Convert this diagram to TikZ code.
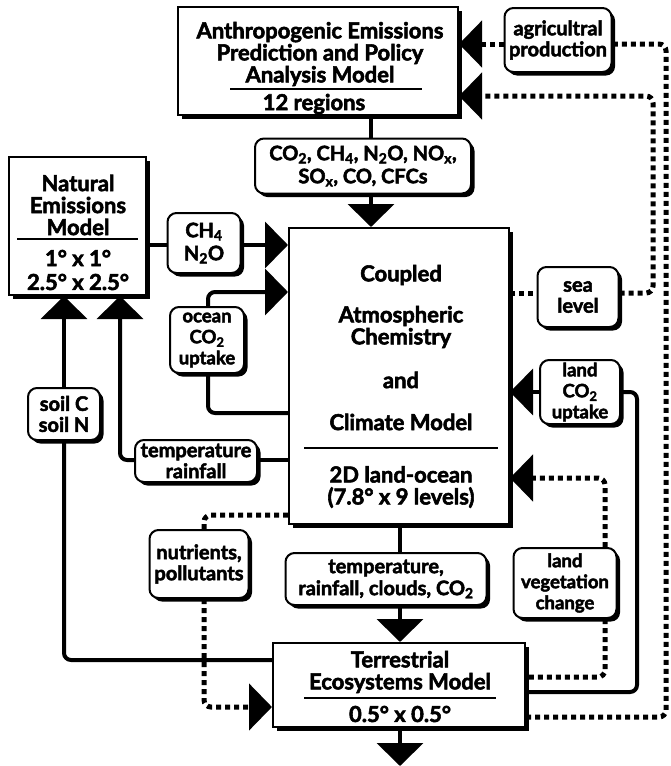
\documentclass[tikz,border=0pt]{standalone}
\usepackage{fontspec}
\setmainfont{Lato}[BoldFeatures={FakeBold=2.5}]
\usetikzlibrary{arrows.meta,shadows,calc}
\newcommand\mytxt{\bfseries\fontsize{22}{22}\selectfont}
\newcommand\mylbl{\bfseries\fontsize{20}{21}\selectfont}
\newcommand\mylblsm{\bfseries\fontsize{18.5}{21}\selectfont}
\begin{document}
\begin{tikzpicture}[x=1pt,y=-1pt,
  shad/.style={drop shadow={shadow xshift=3.5pt,shadow yshift=-3.5pt,fill=black,opacity=1}},
  mbox/.style={draw,line width=2pt,fill=white,inner sep=0pt,shad},
  lbl/.style={draw,line width=2pt,fill=white,rounded corners=9pt,inner sep=0pt,align=center,shad,font=\mylbl},
  lblsm/.style={lbl,font=\mylblsm},
  txt/.style={inner sep=0pt,align=center,font=\mytxt},
  conn/.style={line width=4pt,rounded corners=7pt},
  dots/.style={line width=5pt,dash pattern=on 5pt off 4pt,rounded corners=7pt},
  tipp/.style={-{Triangle[length=23pt,width=46pt]}},
  rule/.style={line width=2pt}
]
\useasboundingbox (0,0) rectangle (671,766);
% coordinates
\coordinate (xA) at (371,0);
\coordinate (yAg) at (0,44);
\coordinate (ySe) at (0,96);
\coordinate (yCH) at (0,245);
\coordinate (yOc) at (0,292);
\coordinate (xOc) at (208,0);
\coordinate (yOb) at (0,413);
\coordinate (yTR) at (0,460);
\coordinate (xTR) at (120,0);
\coordinate (xSo) at (64,0);
\coordinate (ySo) at (0,660);
\coordinate (xC) at (400,0);
\coordinate (yLa) at (0,392);
\coordinate (xLa) at (637,0);
\coordinate (yLb) at (0,692);
\coordinate (ySea) at (0,293);
\coordinate (xSea) at (653,0);
\coordinate (yVg) at (0,478);
\coordinate (xVg) at (605,0);
\coordinate (yVb) at (0,677);
\coordinate (yNu) at (0,515);
\coordinate (xNu) at (204,0);
\coordinate (yNb) at (0,707);
\coordinate (yTo) at (0,717);
\coordinate (xR) at (666,0);
\coordinate (bot) at (400,766);

% main boxes
\node[mbox,minimum width=280pt,minimum height=108pt] (anthro) at (318,61) {};
\node[txt] (anthroT) at (320,54) {Anthropogenic Emissions\\Prediction and Policy\\Analysis Model};
\draw[rule] (230,89) -- (422,89);
\node[txt] (anthroR) at (314,104) {12 regions};

\node[mbox,minimum width=137pt,minimum height=138pt] (natural) at (77.5,226) {};
\node[txt] (naturalT) at (78,205) {Natural\\Emissions\\Model};
\draw[rule] (17,239) -- (138,239);
\node[txt] (naturalR1) at (78,258) {1\textdegree\ x 1\textdegree};
\node[txt] (naturalR2) at (78,282) {2.5\textdegree\ x 2.5\textdegree};

\node[mbox,minimum width=220pt,minimum height=296pt] (climate) at (399,376) {};
\node[txt] (cl1) at (401,275) {Coupled};
\node[txt] (cl2) at (401,327) {Atmospheric\\Chemistry};
\node[txt] (cl3) at (401,380) {and};
\node[txt] (cl4) at (401,422) {Climate Model};
\draw[rule] (304,448) -- (498,448);
\node[txt] (cl5) at (401,487) {2D land-ocean\\(7.8\textdegree\ x 9 levels)};

\node[mbox,minimum width=252pt,minimum height=84pt] (terr) at (399,685) {};
\node[txt] (terrT) at (400,672) {Terrestrial\\Ecosystems Model};
\draw[rule] (304,698) -- (496,698);
\node[txt] (terrR) at (400,714) {0.5\textdegree\ x 0.5\textdegree};

% labels
\node[lbl,minimum width=216pt,minimum height=55pt,font=\bfseries\fontsize{20}{23}\selectfont] (co2) at (363,166) {CO\textsubscript{2}, CH\textsubscript{4}, N\textsubscript{2}O, NO\textsubscript{x},\\SO\textsubscript{x}, CO, CFCs};
\node[lbl,minimum width=73pt,minimum height=60pt,font=\bfseries\fontsize{20}{23}\selectfont] (ch4) at (204,243) {CH\textsubscript{4}\\N\textsubscript{2}O};
\node[lblsm,minimum width=74pt,minimum height=66pt] (ocean) at (207,340) {ocean\\CO\textsubscript{2}\\uptake};
\node[lbl,minimum width=122pt,minimum height=42pt] (temprain) at (196,461) {temperature\\rainfall};
\node[lbl,minimum width=72pt,minimum height=52pt] (soil) at (64,414) {soil C\\soil N};
\node[lbl,minimum width=99pt,minimum height=68pt] (nutr) at (199,564) {nutrients,\\pollutants};
\node[lbl,minimum width=201pt,minimum height=52pt,font=\bfseries\fontsize{20}{22}\selectfont] (templbl) at (386,579) {temperature,\\rainfall, clouds, CO\textsubscript{2}};
\node[lbl,minimum width=107pt,minimum height=64pt] (agri) at (558,40) {agricultral\\production};
\node[lbl,minimum width=81pt,minimum height=60pt] (sea) at (578,297) {sea\\level};
\node[lblsm,minimum width=80pt,minimum height=64pt] (land) at (580,392) {land\\CO\textsubscript{2}\\uptake};
\node[lblsm,minimum width=103pt,minimum height=70pt] (veg) at (565,583) {land\\vegetation\\change};

% solid connectors
\draw[conn] (anthro.south -| xA) -- (co2.north -| xA);
\draw[conn,tipp] (co2.south -| xA) -- (climate.north -| xA);
\draw[conn] (natural.east |- yCH) -- (ch4.west |- yCH);
\draw[conn,tipp] (ch4.east |- yCH) -- (climate.west |- yCH);
\draw[conn,tipp] (ocean.north -| xOc) -- (xOc |- yOc) -- (climate.west |- yOc);
\draw[conn] (ocean.south -| xOc) -- (xOc |- yOb) -- (climate.west |- yOb);
\draw[conn] (climate.west |- yTR) -- (temprain.east |- yTR);
\draw[conn,tipp] (temprain.west |- yTR) -- (xTR |- yTR) -- (natural.south -| xTR);
\draw[conn,tipp] (soil.north) -- (natural.south -| xSo);
\draw[conn] (soil.south) -- (xSo |- ySo) -- (terr.west |- ySo);
\draw[conn] (climate.south -| xC) -- (templbl.north -| xC);
\draw[conn,tipp] (templbl.south -| xC) -- (terr.north -| xC);
\draw[conn,tipp] (terr.south -| xC) -- (bot);
\draw[conn,tipp] (land.west |- yLa) -- (climate.east |- yLa);
\draw[conn] (land.east |- yLa) -- (xLa |- yLa) -- (xLa |- yLb) -- (terr.east |- yLb);

% dotted connectors
\draw[dots,tipp] (agri.west |- yAg) -- (anthro.east |- yAg);
\draw[dots] (terr.east |- yTo) -- (xR |- yTo) -- (xR |- yAg) -- (agri.east |- yAg);
\draw[dots] (climate.east |- ySea) -- (sea.west |- ySea);
\draw[dots,tipp] (sea.east |- ySea) -- (xSea |- ySea) -- (xSea |- ySe) -- (anthro.east |- ySe);
\draw[dots,tipp] (veg.north -| xVg) -- (xVg |- yVg) -- (climate.east |- yVg);
\draw[dots] (veg.south -| xVg) -- (xVg |- yVb) -- (terr.east |- yVb);
\draw[dots] (climate.west |- yNu) -- (xNu |- yNu) -- (nutr.north -| xNu);
\draw[dots,tipp] (nutr.south -| xNu) -- (xNu |- yNb) -- (terr.west |- yNb);
\end{tikzpicture}
\end{document}
